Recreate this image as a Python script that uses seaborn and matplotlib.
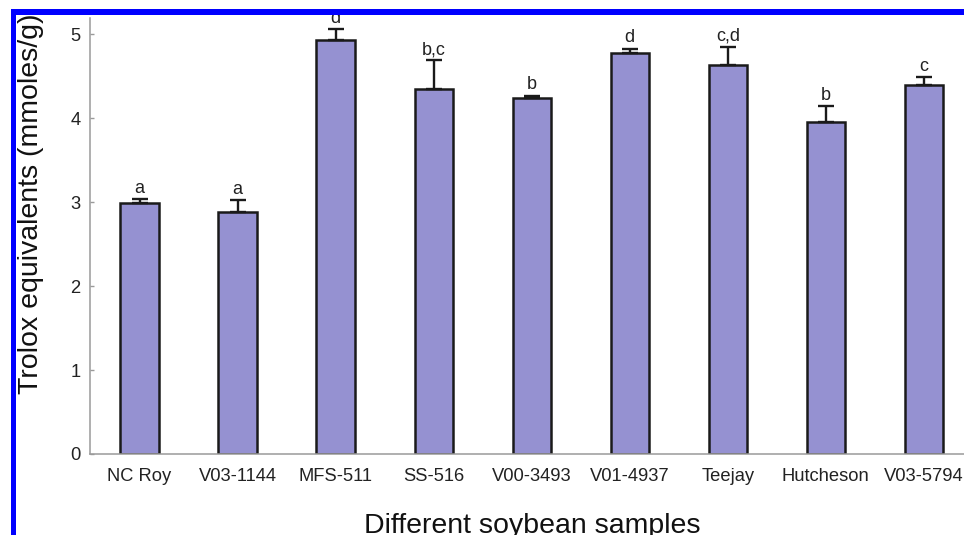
import matplotlib
matplotlib.use("Agg")
import matplotlib.pyplot as plt
import seaborn as sns
import pandas as pd
from matplotlib.patches import Rectangle

# ---- data ----
samples = ["NC Roy", "V03-1144", "MFS-511", "SS-516", "V00-3493",
           "V01-4937", "Teejay", "Hutcheson", "V03-5794"]
means = [2.99, 2.88, 4.93, 4.35, 4.24, 4.78, 4.64, 3.95, 4.39]
errors = [0.05, 0.14, 0.13, 0.34, 0.03, 0.05, 0.21, 0.19, 0.10]
letters = ["a", "a", "d", "b,c", "b", "d", "c,d", "b", "c"]
yticks = [0, 1, 2, 3, 4, 5]

df = pd.DataFrame({"sample": samples, "value": means})

sns.set_theme(style="white")
plt.rcParams["font.family"] = ["Liberation Sans", "DejaVu Sans"]

W, H = 964, 535
fig = plt.figure(figsize=(W / 100, H / 100), dpi=100)
ax = fig.add_axes([90 / W, (H - 454) / H, 874 / W, (454 - 17.5) / H])

sns.barplot(data=df, x="sample", y="value", color="#9591D1", saturation=1,
            width=0.39, edgecolor="#1a1a1a", linewidth=1.8, ax=ax, zorder=2)

xs = list(range(len(samples)))
ax.errorbar(xs, means, yerr=[[0] * len(errors), errors], fmt="none",
            ecolor="#1a1a1a", elinewidth=1.7, capsize=6, capthick=1.7, zorder=3)

for x, m, e, lab in zip(xs, means, errors, letters):
    ax.annotate(lab, (x, m + e), xytext=(0, 1.5), textcoords="offset points",
                ha="center", va="bottom", fontsize=13, color="#222222")

ax.set_xlim(-0.505, -0.505 + 874 / 98.05)
ax.set_ylim(0, 5.2)
ax.set_yticks(yticks)
ax.set_yticklabels([str(t) for t in yticks])

for s in ["top", "right"]:
    ax.spines[s].set_visible(False)
for s in ["left", "bottom"]:
    ax.spines[s].set_color("#9a9a9a")
    ax.spines[s].set_linewidth(1.1)

ax.tick_params(axis="y", direction="in", length=3, width=1, color="#9a9a9a",
               pad=7, labelsize=13.2, labelcolor="#222222", left=True)
ax.tick_params(axis="x", length=0, pad=10, labelsize=13.2, labelcolor="#222222")

ax.set_xlabel("Different soybean samples", fontsize=20.5, color="#111111",
              labelpad=20, x=0.506)
ax.set_ylabel("Trolox equivalents (mmoles/g)", fontsize=20.5, color="#111111",
              labelpad=18.5, y=0.573)

# blue frame strips of the cropped page
fig.add_artist(Rectangle((11 / W, 0), 5 / W, (H - 9.5) / H, transform=fig.transFigure,
                         color="#0000ff", zorder=10, linewidth=0))
fig.add_artist(Rectangle((11 / W, (H - 15) / H), (W - 11) / W, 5.5 / H,
                         transform=fig.transFigure, color="#0000ff", zorder=10, linewidth=0))

fig.savefig("out.png", dpi=100)
